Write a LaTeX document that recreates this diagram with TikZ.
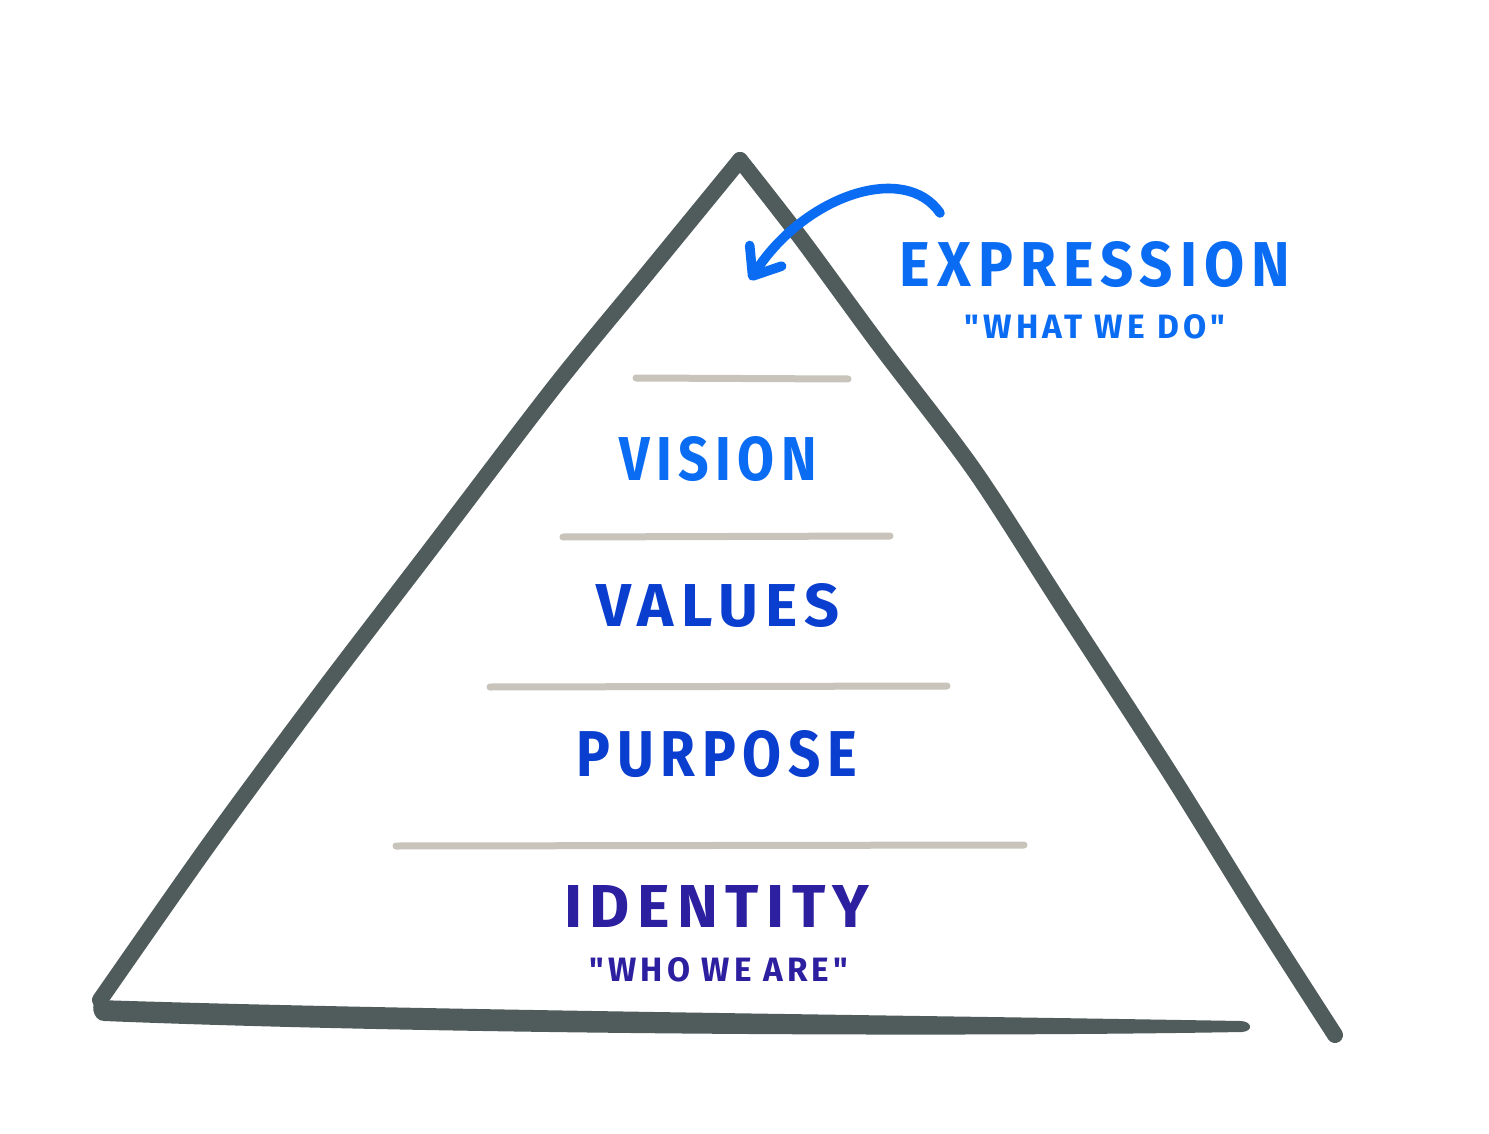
\documentclass[tikz,border=0pt]{standalone}
\usepackage{fontspec}
\usepackage{graphicx}
\usetikzlibrary{arrows.meta}
\newfontfamily\hand[LetterSpace=12]{Fira Sans}
\definecolor{tri}{HTML}{505C5B}
\definecolor{divc}{HTML}{C8C4BC}
\definecolor{lblue}{HTML}{0A6CF2}
\definecolor{mblue}{HTML}{0A3ECF}
\definecolor{dblue}{HTML}{2D20A0}
\newcommand{\fitbox}[3]{\resizebox{#1pt}{#2pt}{\hand\bfseries #3}}
\begin{document}
\begin{tikzpicture}[x=0.5pt,y=-0.5pt,
  trisides/.style={draw=tri,line width=8pt,line join=round,line cap=round},
  divider/.style={draw=divc,line width=3.5pt,line cap=round},
  lbl/.style={inner sep=0pt,anchor=center},
  arrowstyle/.style={draw=lblue,line width=4.8pt,line cap=round,line join=round,
     -{Straight Barb[length=12pt,width=19pt,line cap=round,line join=round]}}]
\useasboundingbox (0,0) rectangle (1489,1134);
\fill[white] (0,0) rectangle (1489,1134);
% triangle sides
\coordinate (bl) at (100,1000);
\coordinate (apex) at (740,160);
\coordinate (br) at (1335,1035);
\draw[trisides] plot[smooth,tension=0.5] coordinates {(bl) (210,843) (320,694) (430,550) (555,386) (650,270) (apex)};
\draw[trisides] plot[smooth,tension=0.5] coordinates {(apex) (800,237) (880,346) (974,470) (1060,603) (1170,773) (1260,918) (br)};
% bottom stroke (tapered)
\fill[tri] (98,1000) .. controls (400,1010) and (900,1015) .. (1240,1021)
  .. controls (1252,1021) and (1254,1031) .. (1242,1032)
  .. controls (900,1038) and (400,1033) .. (104,1021)
  .. controls (92,1021) and (90,1001) .. (98,1000) -- cycle;
% dividers
\draw[divider] (636,378) -- (848,379);
\draw[divider] (563,537) -- (890,536);
\draw[divider] (490,687) -- (947,686);
\draw[divider] (396,846) -- (1024,845);
% labels
\node[lbl,text=lblue] (expr) at (1095,265) {\fitbox{195}{22.5}{EXPRESSION}};
\node[lbl,text=lblue] (exprsub) at (1095,327) {\fitbox{130}{12}{"WHAT WE DO"}};
\node[lbl,text=lblue] (vision) at (718,459) {\fitbox{98.5}{22}{VISION}};
\node[lbl,text=mblue] (values) at (718,606) {\fitbox{121.5}{21.5}{VALUES}};
\node[lbl,text=mblue] (purpose) at (717,754) {\fitbox{140.5}{23}{PURPOSE}};
\node[lbl,text=dblue] (identity) at (717,906) {\fitbox{152.5}{21}{IDENTITY}};
\node[lbl,text=dblue] (identsub) at (719,970) {\fitbox{129}{12}{"WHO WE ARE"}};
% arrow
\coordinate (arrS) at (940,213);
\coordinate (arrE) at (750,280);
\draw[arrowstyle] (arrS) .. controls (905,162) and (805,195) .. (arrE);
\end{tikzpicture}
\end{document}
